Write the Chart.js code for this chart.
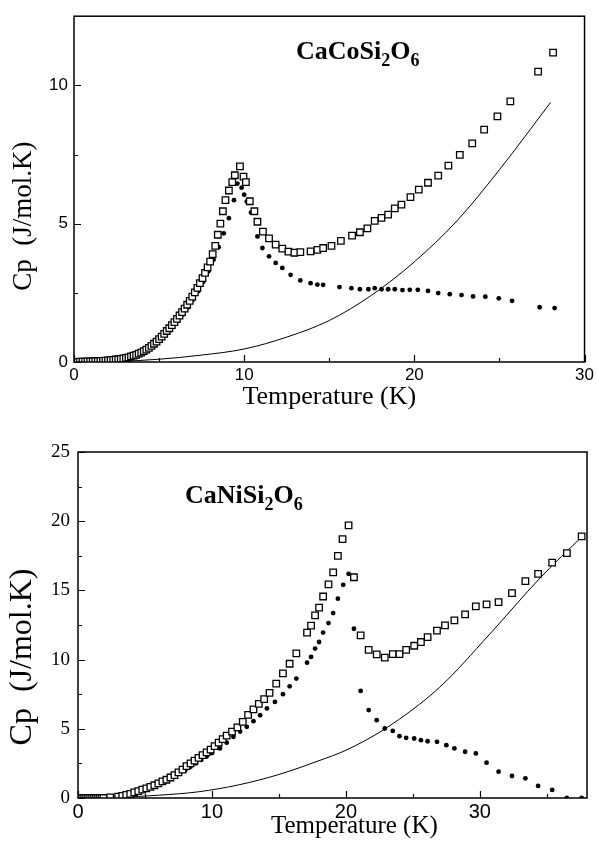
<!DOCTYPE html>
<html>
<head>
<meta charset="utf-8">
<script src="https://cdn.jsdelivr.net/npm/chart.js@4.4.1/dist/chart.umd.min.js"></script>
<style>
  body { margin: 0; background: #fff; }
  #wrap { position: relative; width: 597px; height: 847px; }
  canvas { position: absolute; left: 0; }
  #coChart { top: 0; }
  #niChart { top: 420px; }
</style>
</head>
<body>
<div id="wrap">
  <canvas id="coChart" width="597" height="420"></canvas>
  <canvas id="niChart" width="597" height="427"></canvas>
</div>
<script>
// CaCoSi2O6 - total Cp (open squares)
const coSqT = [0.05,0.2,0.35,0.5,0.65,0.8,0.95,1.1,1.25,1.4,1.55,1.7,1.85,2.0,
  2.15,2.3,2.45,2.6,2.75,2.9,3.05,3.2,3.35,3.5,3.65,3.8,3.95,4.1,4.25,4.4,4.55,4.7,4.85,5.0,
  5.15,5.3,5.45,5.6,5.75,5.9,6.05,6.2,6.35,6.5,6.65,6.8,6.95,7.1,7.25,7.4,7.55,7.7,7.85,8.0,
  8.15,8.3,8.45,8.6,8.75,8.9,9.1,9.3,9.45,9.75,
  9.96,10.1,10.33,10.6,10.78,11.1,11.46,11.85,12.24,12.6,12.95,13.3,13.9,14.3,
  14.64,15.13,15.68,16.34,16.8,17.24,17.67,18.07,18.46,18.85,19.24,19.77,20.26,20.8,21.4,22.0,
  22.67,23.4,24.1,24.88,25.64,27.27,28.15];
const coSqCp = [0.0,0.0,0.01,0.01,0.01,0.02,0.02,0.02,0.03,0.03,0.04,0.04,0.05,0.06,
  0.07,0.08,0.09,0.1,0.11,0.13,0.15,0.17,0.2,0.23,0.26,0.3,0.34,0.39,0.45,0.51,0.58,0.66,0.74,0.83,
  0.92,1.02,1.12,1.22,1.33,1.44,1.56,1.68,1.8,1.93,2.07,2.21,2.36,2.52,2.68,2.85,3.03,3.22,3.42,3.63,
  3.9,4.2,4.6,5.0,5.45,5.85,6.2,6.5,6.75,7.07,
  6.7,6.5,5.81,5.45,5.07,4.71,4.47,4.24,4.1,3.99,3.95,3.97,4.0,4.05,
  4.12,4.2,4.38,4.57,4.69,4.83,5.1,5.21,5.33,5.55,5.69,5.96,6.23,6.48,6.74,7.1,
  7.49,7.9,8.4,8.88,9.42,10.5,11.18];

// CaCoSi2O6 - magnetic Cp (dots)
const coDotT = [0.1,0.4,0.7,1.0,1.3,1.6,1.9,2.2,2.5,2.8,3.1,3.4,3.7,4.0,4.3,4.6,4.9,5.2,5.5,5.8,
  6.1,6.4,6.7,7.0,7.3,7.6,7.9,8.2,8.5,8.8,9.1,9.4,9.6,
  9.85,10.0,10.15,10.4,10.78,11.07,11.46,11.85,12.24,12.73,13.3,13.9,14.3,
  14.64,15.6,16.3,16.8,17.3,17.67,18.07,18.46,18.85,19.3,19.73,20.2,20.8,21.4,22.08,22.77,
  23.45,24.17,24.96,25.74,27.36,28.24];
const coDotCp = [0,0.01,0.01,0.02,0.03,0.04,0.05,0.07,0.09,0.12,0.16,0.21,0.28,0.36,0.46,0.58,0.72,0.88,1.06,1.26,
  1.48,1.72,1.98,2.26,2.56,2.9,3.28,3.7,4.15,4.65,5.2,5.85,6.45,
  6.3,6.05,5.8,5.4,4.54,4.12,3.82,3.58,3.4,3.15,2.95,2.85,2.8,
  2.79,2.71,2.67,2.63,2.63,2.67,2.63,2.63,2.63,2.6,2.61,2.61,2.57,2.49,2.45,2.42,
  2.37,2.36,2.3,2.21,1.98,1.95];

// CaCoSi2O6 - lattice contribution (line)
const coLatT = [0,2.5,5,7.5,10,12.5,15,17.5,20,22.5,25,28];
const coLatCp = [0,0.02,0.1,0.25,0.47,0.9,1.5,2.42,3.62,5.1,6.95,9.38];

// CaNiSi2O6 - total Cp (open squares)
const niSqT = [0.1,0.25,0.4,0.55,0.7,0.85,1.0,1.15,1.3,1.45,1.6,1.75,1.9,2.4,
  3.0,3.3,3.6,3.9,4.2,4.5,4.8,5.1,5.4,5.7,6.0,6.3,6.6,6.9,7.2,7.5,7.8,8.1,8.4,8.7,9.0,9.3,9.6,9.9,
  10.2,10.5,10.8,11.1,11.5,11.9,12.3,12.7,13.1,13.5,13.9,14.3,14.8,15.3,15.8,16.3,
  17.1,17.4,17.7,18.0,18.3,18.7,19.05,19.4,19.75,20.2,
  20.6,21.1,21.7,22.3,22.9,23.5,24.0,24.5,25.1,25.6,26.1,26.8,27.4,28.1,28.9,29.7,30.5,31.4,
  32.4,33.4,34.35,35.4,36.5,37.6];
const niSqCp = [0,0,0,0,0,0,0,0,0,0,0,0,0,0.05,
  0.1,0.15,0.22,0.3,0.4,0.5,0.6,0.7,0.8,0.92,1.05,1.2,1.32,1.48,1.65,1.85,2.05,2.3,2.5,2.7,2.9,3.1,3.3,3.5,
  3.75,4.0,4.25,4.5,4.8,5.1,5.5,6.0,6.4,6.8,7.15,7.6,8.27,9.0,9.7,10.45,
  11.95,12.45,13.2,13.75,14.56,15.43,16.3,17.5,18.7,19.7,
  15.95,11.75,10.7,10.38,10.14,10.4,10.4,10.7,11.0,11.27,11.63,12.1,12.47,12.83,13.27,13.84,13.99,14.15,
  14.8,15.67,16.2,17.0,17.7,18.9];

// CaNiSi2O6 - magnetic Cp (dots)
const niDotT = [0.2,0.6,1.0,1.4,1.8,2.4,
  3.2,3.6,4.0,4.4,4.8,5.2,5.6,6.0,6.4,6.8,7.2,7.6,8.0,8.4,8.8,9.2,9.6,10.0,
  10.6,11.1,11.6,12.1,12.6,13.1,13.6,14.1,14.7,15.3,15.8,16.3,
  17.1,17.4,17.7,18.0,18.3,18.7,19.05,19.4,19.8,20.2,
  20.6,21.1,21.7,22.3,22.9,23.5,24.0,24.5,25.1,25.6,26.1,26.8,27.5,28.1,28.9,29.7,30.5,31.4,
  32.4,33.4,34.35,35.4,36.5,37.6];
const niDotCp = [0,0,0,0,0,0.03,
  0.12,0.2,0.3,0.42,0.55,0.68,0.82,0.98,1.15,1.35,1.55,1.78,2.0,2.25,2.5,2.75,3.0,3.25,
  3.58,4.0,4.42,4.8,5.14,5.55,5.98,6.47,6.94,7.5,8.07,8.63,
  9.78,10.19,10.8,11.27,11.95,12.64,13.36,14.4,15.4,16.2,
  12.23,7.74,6.35,5.62,5.02,4.85,4.47,4.35,4.3,4.18,4.1,4.06,3.82,3.58,3.34,3.22,2.55,1.9,
  1.59,1.42,0.87,0.58,0,0];

// CaNiSi2O6 - lattice contribution (line)
const niLatT = [0,3,6,9,12,15,18,20,23,27,30.7,34.5,37.7];
const niLatCp = [0,0.05,0.2,0.45,0.95,1.7,2.7,3.45,5.05,8.0,11.8,15.9,18.96];

// axis ranges and label texts
const coXRange = [0, 30];
const coYRange = [0, 12.5];
const niXRange = [0, 38];
const niYRange = [0, 25];
const coFormula = [['CaCoSi', false], ['2', true], ['O', false], ['6', true]];
const niFormula = [['CaNiSi', false], ['2', true], ['O', false], ['6', true]];
const coFormulaAt = [13.04, 10.96];
const niFormulaAt = [7.99, 21.3];

const SERIF = '"Liberation Serif", "Times New Roman", serif';
const SANS = '"Liberation Sans", Arial, sans-serif';

function zip(xs, ys) {
    return xs.map((x, i) => ({ x: x, y: ys[i] }));
}

// frame around the plot and inward tick marks (major / minor)
function frameTicks(xMajor, yMajor, frameWidth) {
    return {
        id: 'frameTicks',
        afterDatasetsDraw(chart) {
            const { ctx, chartArea: a, scales: { x, y } } = chart;
            ctx.save();
            ctx.strokeStyle = '#000';
            ctx.lineWidth = 1.2;
            ctx.beginPath();
            x.ticks.forEach(t => {
                const px = Math.round(x.getPixelForValue(t.value)) + 0.5;
                const len = Math.abs(t.value % xMajor) < 1e-6 ? 7 : 4;
                ctx.moveTo(px, a.bottom);
                ctx.lineTo(px, a.bottom - len);
            });
            y.ticks.forEach(t => {
                const py = Math.round(y.getPixelForValue(t.value)) + 0.5;
                const len = Math.abs(t.value % yMajor) < 1e-6 ? 7 : 4;
                ctx.moveTo(a.left, py);
                ctx.lineTo(a.left + len, py);
            });
            ctx.stroke();
            ctx.lineWidth = frameWidth;
            ctx.strokeRect(a.left, a.top, a.right - a.left, a.bottom - a.top);
            ctx.restore();
        }
    };
}

// chemical formula with subscripts, placed in data coordinates
function formulaLabel(parts, at, size) {
    return {
        id: 'formulaLabel',
        afterDraw(chart) {
            const { ctx, scales: { x, y } } = chart;
            let px = x.getPixelForValue(at[0]);
            const py = y.getPixelForValue(at[1]);
            ctx.save();
            ctx.fillStyle = '#000';
            ctx.textBaseline = 'alphabetic';
            ctx.textAlign = 'left';
            parts.forEach(([txt, sub]) => {
                const fs = sub ? Math.round(size * 0.7) : size;
                ctx.font = `bold ${fs}px ${SERIF}`;
                ctx.fillText(txt, px, sub ? py + size * 0.27 : py);
                px += ctx.measureText(txt).width;
            });
            ctx.restore();
        }
    };
}

function datasets(sqT, sqCp, dotT, dotCp, latT, latCp) {
    return [
        {
            label: 'Cp total',
            data: zip(sqT, sqCp),
            pointStyle: 'rect',
            pointRadius: 4.6,
            pointBackgroundColor: '#fff',
            pointBorderColor: '#000',
            pointBorderWidth: 1.3,
            showLine: false
        },
        {
            label: 'Cp magnetique',
            data: zip(dotT, dotCp),
            pointStyle: 'circle',
            pointRadius: 2.4,
            pointBackgroundColor: '#000',
            pointBorderWidth: 0,
            showLine: false
        },
        {
            label: 'Cp reseau',
            data: zip(latT, latCp),
            showLine: true,
            pointRadius: 0,
            borderColor: '#000',
            borderWidth: 1,
            cubicInterpolationMode: 'monotone',
            fill: false
        }
    ];
}

function buildChart(canvasId, cfg) {
    const ctx = document.getElementById(canvasId).getContext('2d');
    return new Chart(ctx, {
        type: 'scatter',
        data: { datasets: datasets(...cfg.series) },
        options: {
            responsive: false,
            animation: false,
            devicePixelRatio: 1,
            layout: { padding: cfg.padding },
            plugins: {
                legend: { display: false },
                tooltip: { enabled: false }
            },
            scales: {
                x: {
                    type: 'linear',
                    min: cfg.xRange[0],
                    max: cfg.xRange[1],
                    grid: { display: false, drawTicks: false },
                    border: { display: false },
                    afterBuildTicks: s => {
                        s.ticks = s.ticks.filter(t => Math.abs(t.value % 5) < 1e-6);
                    },
                    ticks: {
                        stepSize: 5,
                        autoSkip: false,
                        maxRotation: 0,
                        padding: cfg.xTickPad,
                        color: '#000',
                        font: { family: SANS, size: cfg.xTickSize },
                        callback: v => (v % 10 === 0 ? v : '')
                    },
                    title: {
                        display: true,
                        text: cfg.xTitle,
                        color: '#000',
                        font: { family: SERIF, size: cfg.xTitleSize, lineHeight: 1 },
                        padding: { top: 0, bottom: 0 }
                    },
                    afterFit: s => { s.height = cfg.xHeight; }
                },
                y: {
                    type: 'linear',
                    min: cfg.yRange[0],
                    max: cfg.yRange[1],
                    grid: { display: false, drawTicks: false },
                    border: { display: false },
                    ticks: {
                        stepSize: 2.5,
                        autoSkip: false,
                        padding: cfg.yTickPad,
                        color: '#000',
                        font: { family: cfg.yTickFamily, size: cfg.yTickSize },
                        callback: v => (v % 5 === 0 ? v : '')
                    },
                    title: {
                        display: true,
                        text: cfg.yTitle,
                        color: '#000',
                        font: { family: SERIF, size: cfg.yTitleSize, lineHeight: 1 },
                        padding: { top: cfg.yTitlePad, bottom: 0 }
                    },
                    afterFit: s => { s.width = cfg.yWidth; }
                }
            }
        },
        plugins: [frameTicks(cfg.xMajor, 5, 1.5), formulaLabel(cfg.formula, cfg.formulaAt, 26)]
    });
}

// haut : CaCoSi2O6
buildChart('coChart', {
    series: [coSqT, coSqCp, coDotT, coDotCp, coLatT, coLatCp],
    xRange: coXRange,
    yRange: coYRange,
    padding: { left: 0, right: 12, top: 12, bottom: 10 },
    xHeight: 48,
    yWidth: 74,
    xTickPad: 3,
    xTickSize: 17,
    yTickPad: 6,
    yTickSize: 17,
    yTickFamily: SANS,
    xTitle: 'Temperature (K)',
    xTitleSize: 26,
    yTitle: 'Cp  (J/mol.K)        ',
    yTitleSize: 27,
    yTitlePad: 10,
    xMajor: 10,
    formula: coFormula,
    formulaAt: coFormulaAt
});

// bas : CaNiSi2O6
buildChart('niChart', {
    series: [niSqT, niSqCp, niDotT, niDotCp, niLatT, niLatCp],
    xRange: niXRange,
    yRange: niYRange,
    padding: { left: 0, right: 10, top: 32, bottom: 8 },
    xHeight: 41,
    yWidth: 78,
    xTickPad: 2,
    xTickSize: 20,
    yTickPad: 8,
    yTickSize: 19,
    yTickFamily: SERIF,
    xTitle: '       Temperature (K)',
    xTitleSize: 25,
    yTitle: 'Cp  (J/mol.K)        ',
    yTitleSize: 32,
    yTitlePad: 7,
    xMajor: 10,
    formula: niFormula,
    formulaAt: niFormulaAt
});
</script>
</body>
</html>
